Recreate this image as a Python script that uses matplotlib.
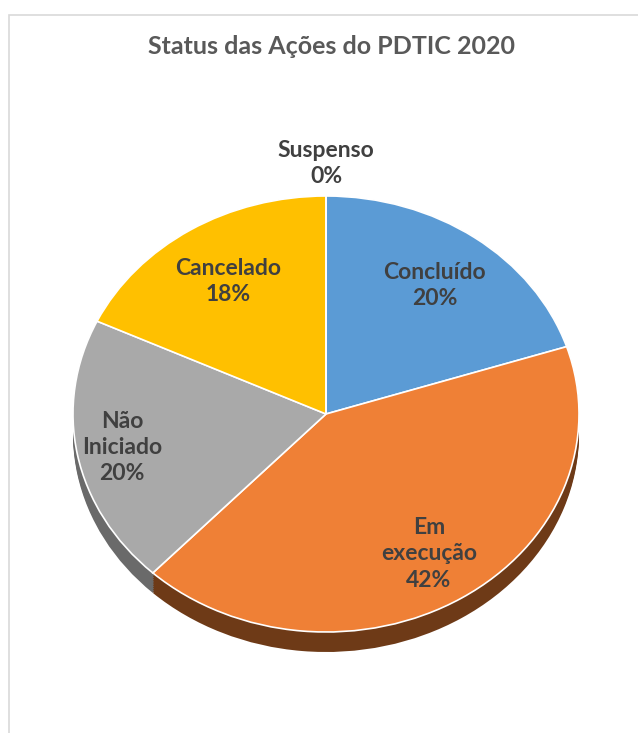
import numpy as np
from matplotlib import pyplot as plt
from matplotlib.patches import Rectangle

# dados do gráfico
status = ["Concluído", "Em\nexecução", "Não\nIniciado", "Cancelado", "Suspenso"]
valores = [20, 42, 20, 18, 0]
cores = ["#5B9BD5", "#EF8036", "#A9A9A9", "#FFC000", "#4472C4"]
cores_lado = ["#2F5F8A", "#6E3A17", "#6A6A6A", "#8A6800", "#2F4F8A"]
titulo = "Status das Ações do PDTIC 2020"

plt.rcParams["font.family"] = ["Lato", "DejaVu Sans"]

W, H = 638, 733
fig = plt.figure(figsize=(W / 100, H / 100), dpi=100)

# moldura cinza do gráfico
fig.patches.append(Rectangle((9 / W, -0.1), 1.2, 1 - 15 / H + 0.1,
                             transform=fig.transFigure, fill=False,
                             edgecolor="#D9D9D9", linewidth=1.2))

# eixo cobrindo a figura inteira; 1 unidade = raio da pizza (elipse)
cx, cy, rx, ry = 326, 414, 253, 218
ax = fig.add_axes([0, 0, 1, 1])
ax.axis("off")

# lateral 3D: várias camadas deslocadas para baixo
prof = 20 / ry
for d in np.linspace(prof, 0.0, 12):
    ax.pie(valores, colors=cores_lado, startangle=90, counterclock=False,
           center=(0, -d), radius=1, wedgeprops=dict(linewidth=0))

fatias, _ = ax.pie(valores, colors=cores, startangle=90, counterclock=False,
                   center=(0, 0), radius=1,
                   wedgeprops=dict(edgecolor="white", linewidth=1.2))
ax.set_aspect("auto")
ax.set_xlim(-cx / rx, (W - cx) / rx)
ax.set_ylim(-(H - cy) / ry, cy / ry)

# rótulos (nome + percentual)
dist = [0.73, 0.76, 0.82, 0.72, 1.15]
total = sum(valores)
for f, nome, v, r in zip(fatias, status, valores, dist):
    ang = np.deg2rad((f.theta1 + f.theta2) / 2)
    ax.text(r * np.cos(ang), r * np.sin(ang), f"{nome}\n{v / total:.0%}",
            ha="center", va="center", fontsize=16.5, fontweight="bold",
            color="#404040", linespacing=1.32)

fig.text(0.52, 1 - 46 / H, titulo, ha="center", va="center",
         fontsize=18, fontweight="bold", color="#595959")

fig.savefig("out.png", dpi=100)
